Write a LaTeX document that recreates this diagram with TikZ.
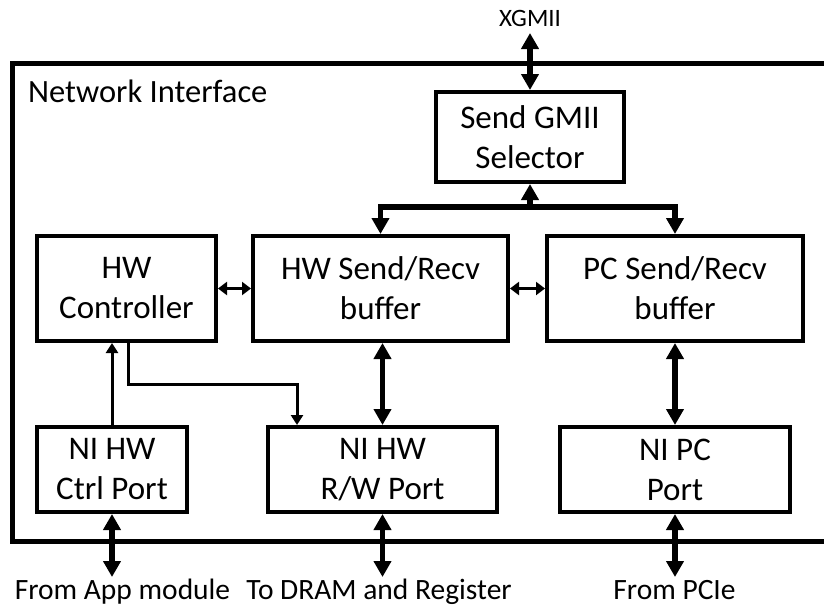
\documentclass[tikz,border=0pt]{standalone}
\usepackage{fontspec}
\setmainfont{Carlito}
\usetikzlibrary{arrows.meta}
\begin{document}
\begin{tikzpicture}[x=1pt,y=-1pt,
  block/.style={draw, line width=4pt, inner sep=0pt, align=center,
    font=\fontsize{33}{40}\selectfont},
  bigarrow/.style={line width=5.5pt, {Triangle[length=16pt,width=17pt]}-{Triangle[length=16pt,width=17pt]}},
  bigone/.style={line width=5.5pt, -{Triangle[length=16pt,width=17pt]}},
  midarrow/.style={line width=3.5pt, {Triangle[length=9pt,width=13pt]}-{Triangle[length=9pt,width=13pt]}},
  thinarrow/.style={line width=3pt, -{Triangle[length=10pt,width=12pt]}},
  extlabel/.style={anchor=base, inner sep=0pt, font=\fontsize{29.5}{34}\selectfont}
]
\useasboundingbox (0,0) rectangle (824,608);
\clip (0,0) rectangle (824,608);

% outer frame of the network interface
\draw[line width=5pt] (12,63.5) rectangle (850,541.5);
\node[anchor=base west, inner sep=0pt, font=\fontsize{32.5}{40}\selectfont] (title) at (28,102) {Network Interface};

% blocks
\node[block, minimum width=188pt, minimum height=90pt] (sel) at (530,137) {Send GMII\\Selector};
\node[block, minimum width=179pt, minimum height=105pt] (hwc) at (126.5,288.5) {HW\\Controller};
\node[block, minimum width=255pt, minimum height=105pt] (hwb) at (380.5,288.5) {HW Send/Recv\\buffer};
\node[block, minimum width=256pt, minimum height=105pt] (pcb) at (675,288.5) {PC Send/Recv\\buffer};
\node[block, minimum width=150pt, minimum height=85pt] (nihc) at (112,469.5) {NI HW\\Ctrl Port};
\node[block, minimum width=229pt, minimum height=85pt] (nirw) at (382.5,469.5) {NI HW\\R/W Port};
\node[block, minimum width=230pt, minimum height=85pt] (nipc) at (675,469.5) {NI PC\\Port};

% external labels
\node[anchor=base, inner sep=0pt, font=\fontsize{25}{30}\selectfont] (xgmii) at (530,26) {XGMII};
\node[extlabel] (lapp) at (122.5,599) {From App module};
\node[extlabel] (ldram) at (379,599) {To DRAM and Register};
\node[extlabel] (lpcie) at (674.5,599) {From PCIe};

% free ends and junctions
\coordinate (xgend) at (530,33);
\coordinate (bus) at (530,207);
\coordinate (append) at (112,577);
\coordinate (dramend) at (382.5,577);
\coordinate (pcieend) at (675,577);
\coordinate (ctrlturn) at (128,384);

% thick data paths
\draw[bigarrow] (xgend) -- (sel.north);
\draw[bigone] (bus) -- (sel.south);
\draw[bigarrow] (hwb.north) |- (bus) -| (pcb.north);
\draw[bigarrow] (nirw.north |- hwb.south) -- (nirw.north);
\draw[bigarrow] (pcb.south) -- (nipc.north);
\draw[bigarrow] (nihc.south) -- (append);
\draw[bigarrow] (nirw.south) -- (dramend);
\draw[bigarrow] (nipc.south) -- (pcieend);

% buffer links
\draw[midarrow] (hwc.east) -- (hwb.west);
\draw[midarrow] (hwb.east) -- (pcb.west);

% control paths
\draw[thinarrow] (nihc.north) -- (nihc.north |- hwc.south);
\draw[thinarrow] (ctrlturn |- hwc.south) -- (ctrlturn) -| ([xshift=-85.5pt]nirw.north);
\end{tikzpicture}
\end{document}
